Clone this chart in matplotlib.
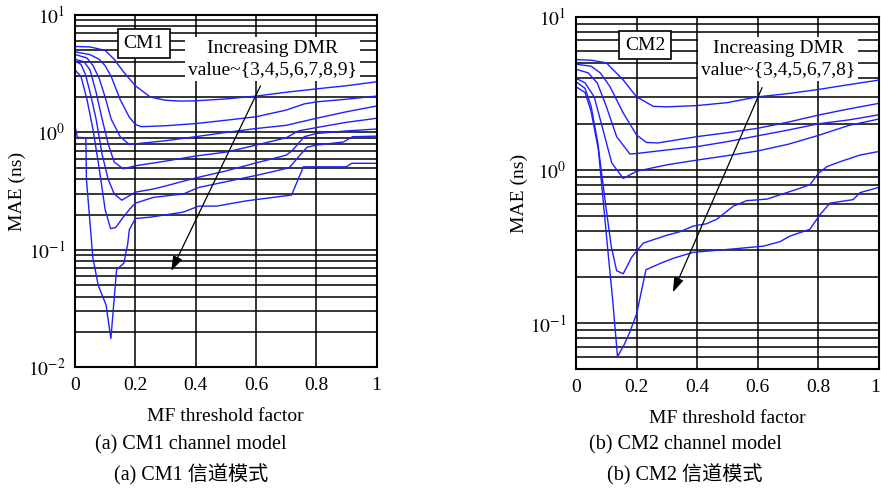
# importing libraries
import numpy as np
import matplotlib.pyplot as plt
import matplotlib.transforms as mtransforms

plt.rcParams['font.family'] = ['Liberation Serif', 'Noto Sans CJK SC']
plt.rcParams['mathtext.fontset'] = 'stix'

# ---- CM1 channel model, one curve per DMR value (3..9) ----
cm1_labels = [3, 4, 5, 6, 7, 8, 9]
cm1_x = [
    [0, 0.05, 0.1, 0.13, 0.16, 0.2, 0.25, 0.3, 0.35, 0.4, 0.5, 0.6, 0.7, 0.8, 0.9, 1.0],
    [0, 0.05, 0.08, 0.1, 0.12, 0.15, 0.18, 0.2, 0.22, 0.3, 0.4, 0.5, 0.6, 0.7, 0.76, 0.8, 0.9, 1.0],
    [0, 0.04, 0.06, 0.08, 0.1, 0.12, 0.15, 0.18, 0.2, 0.3, 0.4, 0.5, 0.6, 0.7, 0.8, 0.9, 1.0],
    [0, 0.03, 0.05, 0.07, 0.09, 0.11, 0.13, 0.16, 0.2, 0.3, 0.4, 0.5, 0.6, 0.7, 0.74, 0.8, 0.9, 1.0],
    [0, 0.02, 0.035, 0.05, 0.07, 0.09, 0.11, 0.13, 0.155, 0.2, 0.26, 0.3, 0.4, 0.5, 0.6, 0.7, 0.72,
     0.76, 0.8, 0.9, 1.0],
    [0, 0.02, 0.04, 0.06, 0.08, 0.1, 0.118, 0.135, 0.16, 0.18, 0.2, 0.26, 0.36, 0.41, 0.52, 0.6,
     0.71, 0.75, 0.77, 0.8, 0.89, 0.92, 1.0],
    [0, 0.008, 0.036, 0.038, 0.059, 0.077, 0.103, 0.119, 0.138, 0.162, 0.175, 0.18, 0.2, 0.25,
     0.36, 0.41, 0.47, 0.57, 0.718, 0.757, 0.9, 0.917, 1.0],
]
cm1_mae = [
    [5.4, 5.35, 5.0, 4.2, 3.3, 2.5, 2.0, 1.88, 1.85, 1.86, 1.93, 2.04, 2.2, 2.35, 2.5, 2.7],
    [4.86, 4.6, 4.2, 3.7, 3.0, 1.9, 1.35, 1.17, 1.12, 1.14, 1.19, 1.27, 1.36, 1.55, 1.75, 1.82, 1.92, 2.04],
    [4.62, 4.3, 3.7, 2.9, 2.0, 1.3, 0.92, 0.79, 0.8, 0.85, 0.92, 1.0, 1.08, 1.15, 1.32, 1.5, 1.68],
    [4.2, 4.0, 3.4, 2.2, 1.3, 0.8, 0.56, 0.49, 0.52, 0.57, 0.63, 0.68, 0.78, 0.9, 1.03, 1.1, 1.22, 1.32],
    [4.06, 3.8, 3.1, 2.2, 1.3, 0.65, 0.4, 0.3, 0.265, 0.31, 0.33, 0.35, 0.41, 0.47, 0.55, 0.64, 0.7,
     0.92, 0.98, 1.03, 1.07],
    [3.4, 3.0, 1.9, 1.05, 0.5, 0.22, 0.152, 0.155, 0.19, 0.22, 0.25, 0.28, 0.3, 0.34, 0.39, 0.43,
     0.5, 0.66, 0.75, 0.78, 0.83, 0.92, 0.93],
    [1.13, 0.91, 0.9, 0.4, 0.087, 0.05, 0.034, 0.0176, 0.068, 0.077, 0.113, 0.148, 0.185, 0.19,
     0.21, 0.236, 0.236, 0.262, 0.293, 0.51, 0.51, 0.546, 0.546],
]

# ---- CM2 channel model, one curve per DMR value (3..8) ----
cm2_labels = [3, 4, 5, 6, 7, 8]
cm2_x = [
    [0, 0.05, 0.1, 0.156, 0.2, 0.255, 0.3, 0.4, 0.5, 0.6, 0.7, 0.8, 0.9, 1.0],
    [0, 0.05, 0.08, 0.112, 0.156, 0.2, 0.233, 0.27, 0.4, 0.5, 0.6, 0.7, 0.8, 0.9, 1.0],
    [0, 0.04, 0.07, 0.1, 0.134, 0.178, 0.2, 0.3, 0.4, 0.5, 0.6, 0.7, 0.8, 0.9, 1.0],
    [0, 0.03, 0.06, 0.09, 0.118, 0.156, 0.2, 0.3, 0.4, 0.5, 0.6, 0.7, 0.8, 0.9, 1.0],
    [0, 0.03, 0.05, 0.072, 0.083, 0.1, 0.116, 0.134, 0.156, 0.184, 0.222, 0.3, 0.343, 0.387, 0.43,
     0.465, 0.519, 0.563, 0.63, 0.685, 0.74, 0.772, 0.8, 0.828, 0.871, 0.937, 1.0],
    [0, 0.03, 0.05, 0.074, 0.105, 0.121, 0.137, 0.16, 0.178, 0.2, 0.231, 0.277, 0.321, 0.387,
     0.519, 0.618, 0.673, 0.706, 0.772, 0.805, 0.838, 0.915, 0.937, 1.0],
]
cm2_mae = [
    [5.25, 5.2, 5.0, 3.86, 3.0, 2.6, 2.58, 2.63, 2.75, 3.0, 3.15, 3.35, 3.6, 3.86],
    [4.9, 4.75, 4.3, 3.5, 2.35, 1.69, 1.51, 1.5, 1.65, 1.75, 1.87, 2.05, 2.28, 2.5, 2.72],
    [4.54, 4.3, 3.7, 2.6, 1.65, 1.27, 1.28, 1.35, 1.42, 1.53, 1.67, 1.82, 2.0, 2.12, 2.29],
    [3.96, 3.7, 3.0, 1.8, 1.11, 0.88, 0.98, 1.08, 1.16, 1.24, 1.33, 1.47, 1.68, 1.95, 2.15],
    [3.77, 3.4, 2.6, 1.5, 1.0, 0.55, 0.32, 0.22, 0.21, 0.27, 0.333, 0.375, 0.395, 0.43, 0.445,
     0.477, 0.58, 0.63, 0.645, 0.70, 0.76, 0.80, 0.95, 1.05, 1.13, 1.25, 1.32],
    [3.49, 3.2, 2.4, 1.35, 0.30, 0.142, 0.0605, 0.073, 0.088, 0.115, 0.223, 0.245, 0.265, 0.29,
     0.305, 0.318, 0.34, 0.37, 0.41, 0.51, 0.607, 0.64, 0.71, 0.77],
]

x_ticks = [0, 0.2, 0.4, 0.6, 0.8, 1]
x_ticklabels = ['0', '0.2', '0.4', '0.6', '0.8', '1']
cm1_yticks = [0.01, 0.1, 1, 10]
cm1_yticklabels = [r'$10^{-2}$', r'$10^{-1}$', r'$10^{0}$', r'$10^{1}$']
cm2_yticks = [0.1, 1, 10]
cm2_yticklabels = [r'$10^{-1}$', r'$10^{0}$', r'$10^{1}$']

panels = [
    {"name": "CM1", "xs": cm1_x, "ys": cm1_mae, "ylim": (0.01, 10),
     "yticks": cm1_yticks, "yticklabels": cm1_yticklabels,
     "values": "{3,4,5,6,7,8,9}", "text_xy": (0.656, 4.2), "box_xy": (0.228, 5.69),
     "arrow_from": (0.619, 2.62), "arrow_to": (0.315, 0.063),
     "rect": [0.0851, 0.2519, 0.3424, 0.7175],
     "caption_x": 191, "caption_en": "(a) CM1 channel model", "caption_cn": "(a) CM1 信道模式"},
    {"name": "CM2", "xs": cm2_x, "ys": cm2_mae, "ylim": (0.05, 10),
     "yticks": cm2_yticks, "yticklabels": cm2_yticklabels,
     "values": "{3,4,5,6,7,8}", "text_xy": (0.667, 5.3), "box_xy": (0.228, 6.53),
     "arrow_from": (0.618, 3.58), "arrow_to": (0.316, 0.153),
     "rect": [0.6538, 0.2479, 0.3439, 0.7181],
     "caption_x": 685, "caption_en": "(b) CM2 channel model", "caption_cn": "(b) CM2 信道模式"},
]

fig = plt.figure(figsize=(8.81, 4.91), dpi=100)

for i, p in enumerate(panels):
    ax = fig.add_axes(p["rect"])
    for xs, ys in zip(p["xs"], p["ys"]):
        ax.plot(xs, ys, color='#1f1fff', lw=1.0)

    ax.set_yscale('log')
    ax.set_xlim(0, 1)
    ax.set_ylim(*p["ylim"])
    ax.set_xticks(x_ticks)
    ax.set_xticklabels(x_ticklabels)
    ax.set_yticks(p["yticks"])
    ax.set_yticklabels(p["yticklabels"])
    ax.grid(True, which='major', color='black', lw=1.1)
    ax.grid(True, which='minor', axis='y', color='black', lw=1.1)
    ax.tick_params(which='both', length=0, labelsize=14, pad=7)
    for s in ax.spines.values():
        s.set_linewidth(1.5)
    ax.set_xlabel('MF threshold factor', fontsize=14, labelpad=10)
    ax.set_ylabel('MAE (ns)', fontsize=14, labelpad=1)

    # last x label of the right panel sits at the figure edge, nudge it in
    if i == 1:
        lab = ax.get_xticklabels()[-1]
        lab.set_transform(lab.get_transform() +
                          mtransforms.ScaledTranslation(-4 / 100, 0, fig.dpi_scale_trans))

    ax.text(*p["box_xy"], p["name"], fontsize=14, ha='center', va='center',
            bbox=dict(boxstyle='square,pad=0.3', fc='white', ec='black', lw=1.2))
    ax.text(*p["text_xy"], "Increasing DMR\nvalue~" + p["values"], fontsize=14,
            ha='center', va='center', linespacing=1.3,
            bbox=dict(boxstyle='square,pad=0.15', fc='white', ec='none'))
    ax.annotate('', xy=p["arrow_to"], xytext=p["arrow_from"],
                arrowprops=dict(arrowstyle='-|>,head_length=0.9,head_width=0.3',
                                color='black', lw=0.9))

    fig.text(p["caption_x"] / 881, 1 - 445 / 491, p["caption_en"], fontsize=14.5,
             ha='center', va='center')
    fig.text(p["caption_x"] / 881, 1 - 475 / 491, p["caption_cn"], fontsize=14.5,
             ha='center', va='center')

plt.savefig('out.png', dpi=100)
